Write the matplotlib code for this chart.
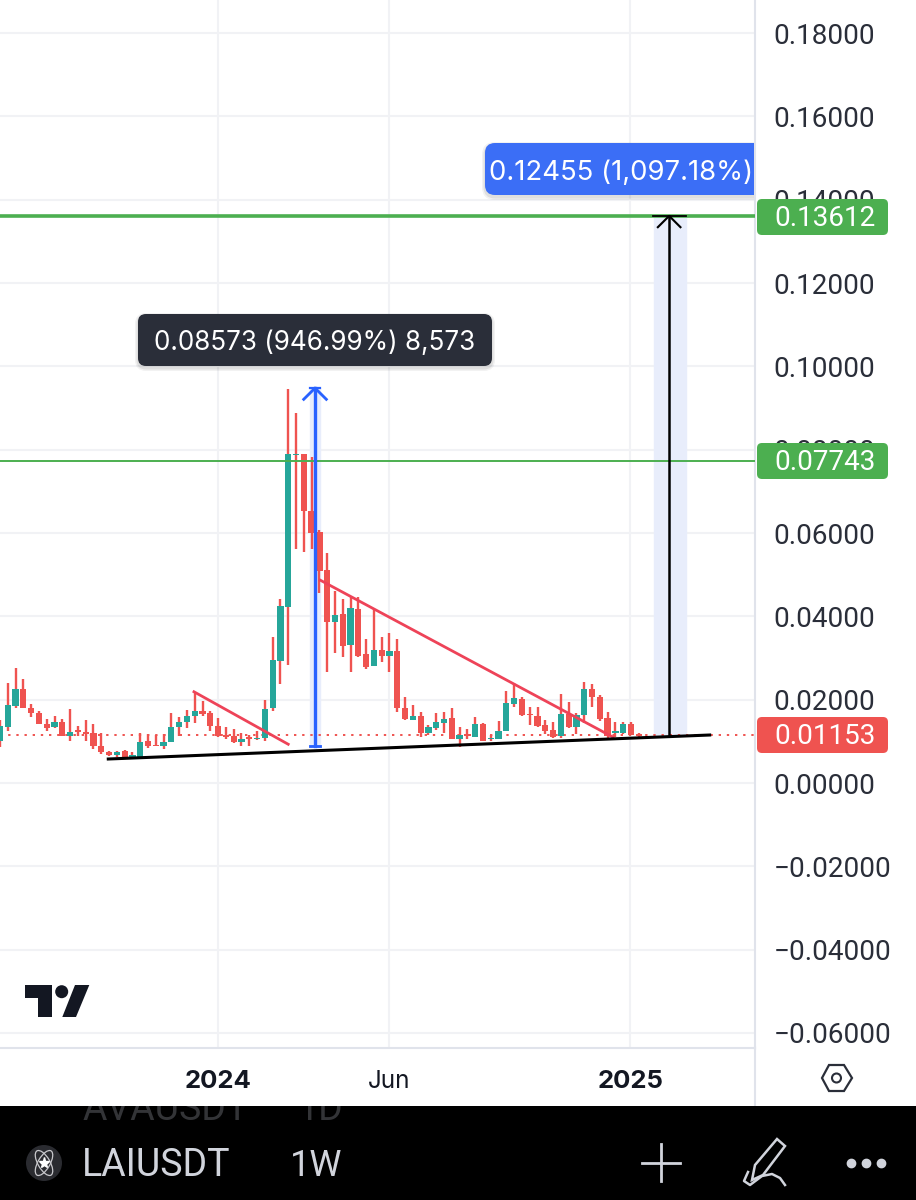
import matplotlib
matplotlib.use('Agg')
import matplotlib.pyplot as plt
from matplotlib.patches import FancyBboxPatch, Rectangle, Circle, Polygon, Ellipse

plt.rcParams['font.family'] = ['Inter', 'DejaVu Sans']

# weekly candles, LAIUSDT
opens = [.01008, .01352, .01848, .02256, .01808, .01672, .01416, .01336, .01472, .01136,
         .01272, .01224, .01192, .00888, .00752, .00672, .00776, .00616, .00632, .01008,
         .00904, .00888, .00992, .01352, .01472, .01608, .01728, .01672, .01368, .0116,
         .01136, .00992, .01096, .01056, .01072, .01792, .02936, .04232, .07864, .07896,
         .06536, .06024, .05104, .03872, .04048, .03312, .04184, .03088, .02808, .03192,
         .03056, .03168, .01792, .01512, .01608, .01208, .01312, .01448, .0156, .01056,
         .01176, .01112, .01408, .01048, .01064, .01248, .01896, .02024, .01656, .01608,
         .01392, .01264, .01128, .01648, .01352, .01624, .02256, .02072, .01552, .01208,
         .01192, .01424, .01176]
highs = [.01512, .02408, .02752, .02488, .01896, .01728, .01536, .01608, .01536, .01768,
         .01368, .01512, .01416, .01208, .00768, .00776, .00792, .00752, .01208, .01176,
         .01152, .01168, .01672, .01592, .01752, .02192, .01968, .01728, .01552, .01352,
         .01296, .01192, .01152, .01256, .01992, .03496, .04408, .09448, .08888, .07896,
         .07832, .06072, .05528, .04608, .04424, .04472, .04456, .03448, .04168, .03512,
         .03608, .03448, .02072, .01864, .01704, .01392, .01672, .01696, .01792, .01336,
         .01288, .01592, .01432, .01144, .01488, .02216, .02408, .02072, .01832, .01816,
         .01512, .01472, .02128, .01936, .01688, .02424, .02376, .02112, .01712, .01456,
         .01464, .01464, .01192]
lows = [.00872, .01256, .01808, .01792, .01592, .01416, .01256, .01312, .01136, .01008,
        .01128, .01016, .00808, .00688, .00648, .00632, .00592, .00592, .00632, .00832,
        .00888, .00808, .00992, .01128, .01328, .01432, .01608, .01256, .01096, .01064,
        .00952, .00888, .00888, .01032, .01016, .01728, .02376, .02832, .05616, .05552,
        .05608, .04552, .02664, .03128, .03032, .02664, .03016, .02728, .02808, .02912,
        .02672, .01712, .01512, .01512, .01112, .01152, .01272, .01208, .01048, .00856,
        .01064, .01112, .01008, .01, .01048, .01248, .01832, .01616, .01392, .01352,
        .01176, .01072, .0108, .01312, .01176, .01448, .01832, .01496, .01032, .01096,
        .01176, .01144, .01048]
closes = [.01368, .01872, .02256, .018, .01672, .01416, .01312, .01472, .01136, .01232,
          .01216, .01176, .00896, .00752, .00672, .00752, .00616, .00672, .00992, .00896,
          .00888, .00992, .01352, .01472, .01608, .01728, .01656, .01368, .01136, .01096,
          .00992, .01064, .01064, .01088, .01768, .02952, .04248, .07888, .07904, .06536,
          .06008, .05088, .03872, .04024, .03296, .04192, .03056, .02776, .03192, .03056,
          .0316, .01792, .01536, .01608, .01208, .01336, .01456, .01544, .01064, .01144,
          .01128, .01408, .01016, .01088, .01248, .01912, .02032, .01624, .01632, .01376,
          .01256, .01112, .01648, .01336, .01624, .02256, .02072, .01536, .01128, .0124,
          .01424, .0116, .01128]

price_ticks = [-0.06, -0.04, -0.02, 0.0, 0.02, 0.04, 0.06, 0.08, 0.10, 0.12, 0.14, 0.16, 0.18]
time_ticks = [28, 49.9, 80.9]
time_labels = ['2024', 'Jun', '2025']
line_top = 0.13612
line_mid = 0.07743
last_price = 0.01153
# trend lines (week index, price)
support_x, support_y = [13.9, 91.1], [0.00576, 0.01152]
fall1_x, fall1_y = [24.9, 37.0], [0.0219, 0.0093]
fall2_x, fall2_y = [41.1, 78.7], [0.0487, 0.0110]
blue_x, blue_low, blue_high = 40.44, 0.0089, 0.0948
black_x, black_low, black_high = 85.9, 0.01153, 0.13612

GREEN = '#26a69a'
RED = '#ef5350'
LINE_GREEN = '#4caf50'
BLUE = '#2962ff'
GRID = '#f1f2f5'
TEXT = '#131722'

fig = plt.figure(figsize=(9.16, 12), dpi=100, facecolor='white')
ax = fig.add_axes([0, 152/1200, 755/916, 1048/1200])
ax.set_xlim(0, 96.92)
ax.set_ylim(-265/4166, 783/4166)
ax.set_axisbelow(True)
ax.grid(True, color=GRID, lw=1.5)
ax.set_yticks(price_ticks)
ax.set_yticklabels([('\u2212%.5f' % -p) if p < 0 else '%.5f' % p for p in price_ticks], family='Roboto')
ax.yaxis.tick_right()
ax.set_xticks(time_ticks)
ax.set_xticklabels([])
ax.tick_params(axis='both', length=0)
ax.tick_params(axis='y', labelsize=20.1, labelcolor='#2a2e39', pad=13.5)
for side in ['top', 'left', 'bottom']:
    ax.spines[side].set_visible(False)
ax.spines['right'].set_color('#e0e3eb')
ax.spines['right'].set_linewidth(1.5)

# shaded bands behind the measure arrows
ax.axvspan(blue_x - 0.7, blue_x + 0.7, ymin=(blue_low + 265/4166)/(1048/4166),
           ymax=(blue_high + 265/4166)/(1048/4166), color='#e8edfb', zorder=1)
ax.axvspan(black_x - 2.0, black_x + 2.2, ymin=(black_low + 265/4166)/(1048/4166),
           ymax=(black_high + 265/4166)/(1048/4166), color='#e8edfb', zorder=1)

# candles, wicks are red on every candle in this chart
idx = list(range(len(opens)))
colors = [GREEN if c >= o else RED for o, c in zip(opens, closes)]
ax.vlines(idx, lows, highs, colors=RED, lw=1.7, zorder=3)
ax.bar(idx, [abs(c - o) for o, c in zip(opens, closes)], bottom=[min(o, c) for o, c in zip(opens, closes)],
       width=0.8, color=colors, linewidth=0, zorder=3)

# horizontal lines
ax.axhline(line_top, color=LINE_GREEN, lw=2.6, zorder=4)
ax.axhline(line_mid - 0.0002, color=LINE_GREEN, lw=1.4, zorder=4)
ax.axhline(last_price, color=RED, lw=1.4, ls=(0, (1.2, 3)), zorder=2)

# drawings
ax.plot(fall1_x, fall1_y, color='#ee4358', lw=2.0, zorder=5)
ax.plot(fall2_x, fall2_y, color='#ee4358', lw=2.0, zorder=5)
ax.plot(support_x, support_y, color='black', lw=2.2, zorder=6)


def measure(x, low, high, color, lw, low_cap):
    ax.plot([x, x], [low, high], color=color, lw=lw, zorder=6)
    ax.plot([x - 1.45, x, x + 1.45], [high - 0.0027, high, high - 0.0027], color=color, lw=lw * 0.85, zorder=6)
    if low_cap:
        ax.plot([x - 0.64, x + 0.64], [low, low], color=color, lw=lw * 0.85, zorder=6)


measure(blue_x, blue_low, blue_high, BLUE, 2.4, True)
ax.plot([blue_x - 0.64, blue_x + 0.64], [blue_high, blue_high], color=BLUE, lw=1.6, zorder=6)
measure(black_x, black_low, black_high, 'black', 1.8, False)
ax.plot([black_x - 2.1, black_x + 2.1], [black_high, black_high], color='black', lw=1.3, zorder=6)

# screen furniture, in pixels
ui = fig.add_axes([0, 0, 1, 1], facecolor='none')
ui.set_xlim(0, 916)
ui.set_ylim(1200, 0)
ui.axis('off')


def tag(x0, y0, x1, y1, color, label, tx, size=20.1, clip=None, radius=5, shadow=False, family='Roboto', dy=2.0):
    clip_rect = Rectangle((0, 0), clip, 1200, transform=ui.transData) if clip else None
    if shadow:
        for grow, alpha in [(3, 0.05), (1.5, 0.08)]:
            s = FancyBboxPatch((x0 + radius, y0 + radius + 2), x1 - x0 - 2 * radius, y1 - y0 - 2 * radius,
                               boxstyle='round,pad=%g,rounding_size=%g' % (radius + grow, radius + grow),
                               fc='black', ec='none', alpha=alpha, zorder=9)
            ui.add_patch(s)
            if clip_rect is not None:
                s.set_clip_path(clip_rect)
    p = FancyBboxPatch((x0 + radius, y0 + radius), x1 - x0 - 2 * radius, y1 - y0 - 2 * radius,
                       boxstyle='round,pad=%g,rounding_size=%g' % (radius, radius),
                       fc=color, ec='none', zorder=10)
    ui.add_patch(p)
    if clip_rect is not None:
        p.set_clip_path(clip_rect)
    ui.text(tx, (y0 + y1) / 2 + dy, label, color='white', ha='center', va='center', fontsize=size, zorder=11,
            family=family)


tag(757, 199, 888, 235, LINE_GREEN, '0.13612', 825)
tag(757, 443, 888, 479, LINE_GREEN, '0.07743', 825)
tag(757, 717, 888, 753, RED, '0.01153', 825)
tag(138, 314, 492, 366, '#2a2e39', '0.08573 (946.99%) 8,573', 315, size=18.8, radius=8, shadow=True,
    family='Inter', dy=3)
tag(485, 143, 775, 195, '#3b6ef6', '0.12455 (1,097.18%)', 621, size=19.8, clip=754, radius=10, shadow=True,
    family='Inter', dy=4)

# TradingView mark
LOGO = '#131722'
ui.add_patch(Polygon([(25, 985), (52, 985), (52, 1017), (38, 1017), (38, 998), (25, 998)], fc=LOGO, ec='none'))
ui.add_patch(Circle((61.7, 991.7), 6.5, fc=LOGO, ec='none'))
ui.add_patch(Polygon([(75, 985), (89.3, 985), (76, 1017), (62.3, 1017)], fc=LOGO, ec='none'))

# time axis
ui.plot([0, 755], [1048, 1048], color='#e0e3eb', lw=1.5)
ui.plot([755, 755], [1048, 1106], color='#e0e3eb', lw=1.5)
for t, lab, w in zip(time_ticks, time_labels, ['bold', 'normal', 'bold']):
    px = t * 7.79
    ui.text(px, 1081.5, lab, ha='center', va='center', color=TEXT, fontsize=18.5 if w == 'bold' else 17.5,
            fontweight=w)
ui.add_patch(Polygon([(822, 1078), (829, 1065), (844, 1065), (852, 1078), (844, 1091), (829, 1091)],
                     fc='none', ec='#2a2e39', lw=1.6))
ui.add_patch(Circle((836.5, 1078), 4.5, fc='none', ec='#2a2e39', lw=1.5))

# bottom bar
ui.add_patch(Rectangle((0, 1106), 916, 94, fc='black', ec='none', zorder=2))
bar_clip = Rectangle((0, 1106), 916, 94, transform=ui.transData)
for lab, tx in [('AVAUSDT', 83), ('1D', 298)]:
    d = ui.text(tx, 1109, lab, color='#333437', fontsize=27, va='center', family='Roboto', zorder=3, clip_on=True)
    d.set_clip_path(bar_clip)
ui.text(82, 1165.5, 'LAIUSDT', color='#d1d4dc', fontsize=27, va='center', family='Roboto', zorder=3)
ui.text(290, 1165.5, '1W', color='#d1d4dc', fontsize=26, va='center', family='Roboto', zorder=3)
ui.add_patch(Circle((44, 1163), 18, fc='#2a2b30', ec='none', zorder=3))
for ang in (30, -30):
    ui.add_patch(Ellipse((44, 1163), 12, 28, angle=ang, fc='none', ec='#c8c8cc', lw=0.9, zorder=4))
ui.plot([44], [1163], marker='*', ms=8, color='white', zorder=5)
# plus
ui.plot([642, 680], [1163, 1163], color='#d1d4dc', lw=2, zorder=3)
ui.plot([660.5, 660.5], [1144, 1181], color='#d1d4dc', lw=2, zorder=3)
# pen
ui.add_patch(Polygon([(755, 1165), (777, 1139), (785, 1146), (763, 1175), (752, 1180)], fc='none', ec='#d1d4dc',
                     lw=1.8, zorder=3))
ui.plot([748, 744, 750, 762, 772, 780, 785], [1172, 1181, 1185, 1176, 1174, 1178, 1185], color='#d1d4dc', lw=1.8, zorder=3)
# dots
ui.plot([851, 866, 881], [1163, 1163, 1163], ls='', marker='o', ms=6, color='#d1d4dc', zorder=3)

fig.savefig('out.png', dpi=100)
